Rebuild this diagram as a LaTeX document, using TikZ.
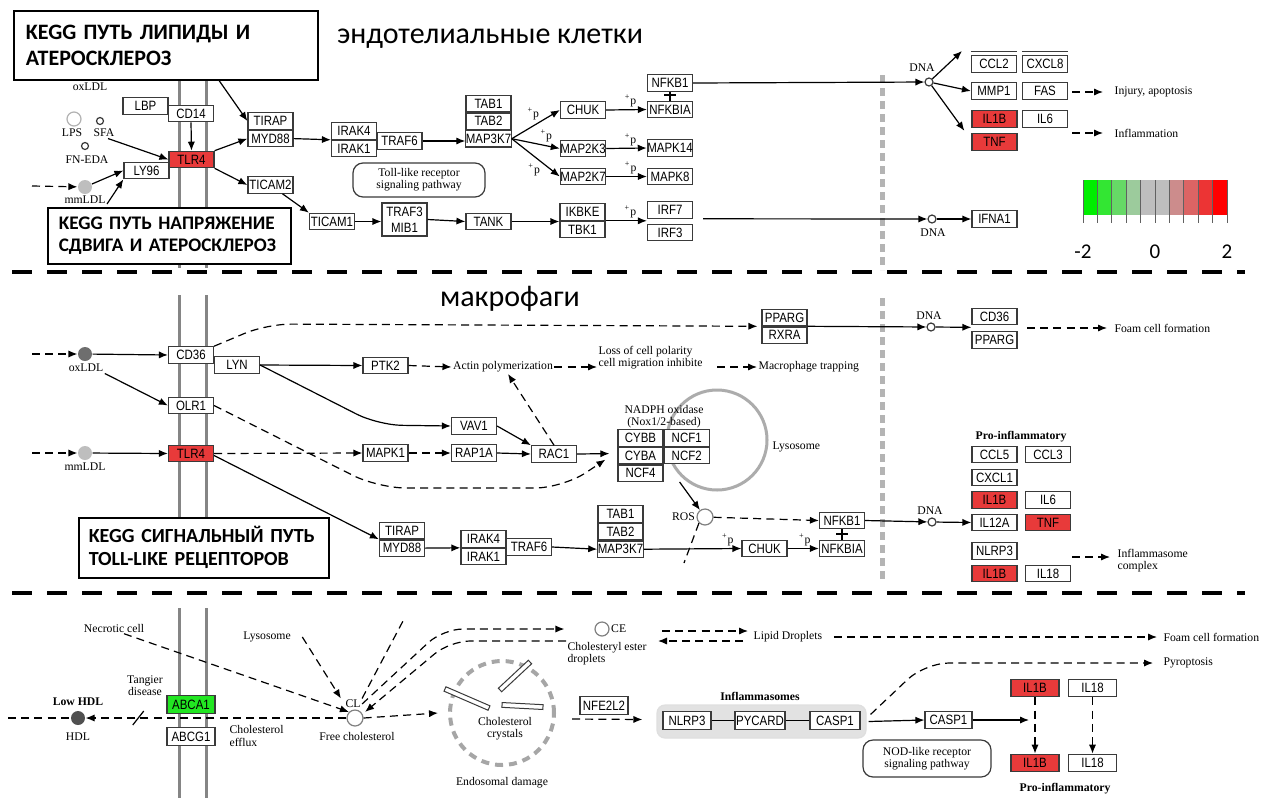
\documentclass[tikz,border=0pt]{standalone}
\usepackage{fontspec}
\setmainfont{Liberation Serif}
\newfontfamily\genefont[FakeStretch=0.85]{Liberation Sans}
\newfontfamily\headfont{Carlito}
\usetikzlibrary{arrows.meta,positioning}

\definecolor{boxline}{HTML}{3A3A3A}
\definecolor{upred}{HTML}{E83A3A}
\definecolor{downgreen}{HTML}{22E622}
\definecolor{membrane}{HTML}{858585}
\definecolor{nucline}{HTML}{B4B4B4}
\definecolor{oxgray}{HTML}{6E6E6E}
\definecolor{mmgray}{HTML}{BEBEBE}
\definecolor{hdlgray}{HTML}{505050}
\definecolor{inflgray}{HTML}{E2E2E2}

\newcommand{\plusp}{\textsuperscript{+}p}

\begin{document}
\begin{tikzpicture}[x=0.5pt,y=-0.5pt,>={Latex[length=4.5pt,width=3.6pt]},line width=0.6pt,
    gene/.style={draw=boxline,fill=white,inner sep=0pt,minimum width=22.5pt,minimum height=8.2pt,
      font=\genefont\fontsize{6.75}{7}\selectfont},
    upgene/.style={gene,fill=upred},
    widegene/.style={gene,minimum width=24pt,minimum height=8.8pt},
    lbl/.style={inner sep=0.5pt,align=center,font=\fontsize{5.85}{6.1}\selectfont},
    blbl/.style={lbl,font=\fontsize{5.85}{6.1}\selectfont\bfseries},
    cpd/.style={circle,draw=boxline,fill=white,inner sep=0pt,minimum size=4pt},
    ldl/.style={circle,inner sep=0pt,minimum size=7pt},
    dsh/.style={dash pattern=on 4pt off 2.6pt},
    pathbox/.style={draw=boxline,rounded corners=5pt,minimum width=66pt,minimum height=17pt,
      align=center,inner sep=0pt,font=\fontsize{5.85}{6.1}\selectfont},
    crystal/.style={draw=boxline,fill=white,line width=0.5pt,inner sep=0pt,minimum height=2.4pt},
    headbox/.style={draw=black,fill=white,line width=0.8pt,anchor=north west,align=left,
      font=\headfont\bfseries}]

  \fill[white] (0,0) rectangle (1278,798);
  \useasboundingbox (0,0) rectangle (1278,798);

  % cell membranes
  \foreach \mx in {179,206} {
    \draw[membrane,line width=1.5pt] (\mx,12) -- (\mx,268);
    \draw[membrane,line width=1.5pt] (\mx,295) -- (\mx,578);
    \draw[membrane,line width=1.5pt] (\mx,608) -- (\mx,798);
  }
  % nuclear border
  \draw[nucline,line width=2.5pt,dash pattern=on 4pt off 2.5pt] (882,75) -- (882,270);
  \draw[nucline,line width=2.5pt,dash pattern=on 4pt off 2.5pt] (882,298) -- (882,580);
  % compartments
  \draw[line width=2pt,dash pattern=on 10pt off 7.5pt] (12,272) -- (1245,272);
  \draw[line width=2pt,dash pattern=on 10pt off 7.5pt] (12,593) -- (1245,593);

  \node[font=\headfont\fontsize{15}{18}\selectfont] (endotitle) at (490,39) {эндотелиальные клетки};
  \node[font=\headfont\fontsize{15}{18}\selectfont] (macrotitle) at (510,299) {макрофаги};

  %% endothelial cells
  \node[lbl] (oxlblA) at (90,87) {oxLDL};
  \node[ldl,draw=gray!60,fill=white] (lps) at (74,119) {};
  \node[cpd,minimum size=3.5pt] (sfa) at (100,121) {};
  \node[cpd,minimum size=3.5pt] (fneda) at (85,146) {};
  \node[lbl] (lpslbl) at (72,133) {LPS};
  \node[lbl] (sfalbl) at (104,133) {SFA};
  \node[lbl] (fnedalbl) at (87,160) {FN-EDA};
  \node[ldl,fill=mmgray] (mmA) at (85,187) {};
  \node[lbl] (mmlblA) at (85,200) {mmLDL};
  \coordinate (mminA) at (32,186);
  \coordinate (shearin) at (107,204);
  \coordinate (lipin) at (218,79);

  \node[gene] (lbp) at (145.5,106) {LBP};
  \node[gene] (cd14) at (191,113.5) {CD14};
  \node[upgene] (tlrA) at (191.5,159.5) {TLR4};
  \node[gene] (ly96) at (146.5,170.5) {LY96};
  \node[gene] (tirapA) at (270.5,121) {TIRAP};
  \node[gene,below=0pt of tirapA] (myd88A) {MYD88};
  \node[gene] (ticam2) at (270.5,185) {TICAM2};
  \node[gene] (irak4A) at (354,131) {IRAK4};
  \node[gene,below=0pt of irak4A] (irak1A) {IRAK1};
  \node[gene] (traf6A) at (399.5,141) {TRAF6};
  \node[gene] (tab1A) at (488.5,103.5) {TAB1};
  \node[gene,below=0pt of tab1A] (tab2A) {TAB2};
  \node[gene,below=0pt of tab2A] (map3k7A) {MAP3K7};
  \node[gene] (chukA) at (583,110) {CHUK};
  \node[gene] (map2k3) at (583,148.5) {MAP2K3};
  \node[gene] (map2k7) at (583,176.5) {MAP2K7};
  \node[gene] (nfkb1A) at (670,83) {NFKB1};
  \node[gene] (nfkbiaA) at (670,109.5) {NFKBIA};
  \node[gene] (mapk14) at (670,148) {MAPK14};
  \node[gene] (mapk8) at (670,176.5) {MAPK8};
  \node[gene] (irf7) at (670,210) {IRF7};
  \node[gene] (irf3) at (670,232.5) {IRF3};
  \node[gene] (ticam1) at (332,221.5) {TICAM1};
  \node[gene,align=center,minimum height=16.5pt] (traf3) at (404.5,219.5) {TRAF3\\[1pt]MIB1};
  \node[gene] (tank) at (488.5,221.5) {TANK};
  \node[gene] (ikbke) at (582.5,212) {IKBKE};
  \node[gene,below=0pt of ikbke] (tbk1) {TBK1};
  \node[pathbox] (tlrpath) at (419,180) {Toll-like receptor\\signaling pathway};

  \node[cpd] (dnaA) at (929,82) {};
  \node[lbl] (dnalblA) at (922,68) {DNA};
  \node[gene] (ccl2) at (994,64) {CCL2};
  \node[gene] (cxcl8) at (1045,64) {CXCL8};
  \node[gene] (mmp1) at (994,91) {MMP1};
  \node[gene] (fas) at (1045,91) {FAS};
  \node[upgene] (il1bA) at (994.5,119) {IL1B};
  \node[gene] (il6A) at (1045,119) {IL6};
  \node[upgene] (tnfA) at (994.5,142) {TNF};
  \node[lbl,anchor=west] (injury) at (1113,92) {Injury, apoptosis};
  \node[lbl,anchor=west] (inflam) at (1113,133) {Inflammation};
  \node[cpd] (dnaB) at (932,219) {};
  \node[lbl] (dnalblB) at (933,233) {DNA};
  \node[gene] (ifna1) at (994.5,219) {IFNA1};
  \coordinate (upcut) at (962,51);
  \draw[boxline] ([yshift=2pt]ccl2.north west) -- ([yshift=2pt]ccl2.north east);
  \draw[boxline] ([yshift=2pt]cxcl8.north west) -- ([yshift=2pt]cxcl8.north east);

  \draw[->,dsh] (mminA) -- (mmA);
  \draw[->] (mmA) -- (ly96.west);
  \draw[->] (shearin) -- (ly96.south west);
  \draw[->] ([xshift=2pt]sfalbl.south) -- (tlrA.west);
  \draw[->] (cd14.south) -- (tlrA.north);
  \draw[->] (lipin) -- (tirapA.west);
  \draw[->] (tlrA.north east) -- (myd88A.west);
  \draw[->] (tlrA.south east) -- (ticam2.west);
  \draw[->] ([xshift=6pt]ticam2.south) -- (ticam1.north west);
  \draw[->] (myd88A.east) -- (irak1A.north west);
  \draw[->] (traf6A.east) -- (traf6A.east -| map3k7A.west);
  \draw[->] (map3k7A.east) -- (chukA.west) node[lbl,pos=0.6,above left=0pt] {\plusp};
  \draw[->] (map3k7A.east) -- (map2k3.west) node[lbl,pos=0.72,above=1pt] {\plusp};
  \draw[->] (map3k7A.east) -- (map2k7.west) node[lbl,pos=0.62,below left=0pt] {\plusp};
  \draw[->] (chukA.east) -- (nfkbiaA.west) node[lbl,pos=0.6,above=0.5pt] {\plusp};
  \draw[->] (map2k3.east) -- (mapk14.west) node[lbl,pos=0.6,above=0.5pt] {\plusp};
  \draw[->] (map2k7.east) -- (mapk8.west) node[lbl,pos=0.6,above=0.5pt] {\plusp};
  \draw (nfkb1A.south) -- (nfkbiaA.north) coordinate[pos=0.35] (bindA);
  \draw ([xshift=-3pt]bindA) -- ([xshift=3pt]bindA);
  \draw[->] (ticam1.east) -- (traf3.west |- ticam1.east);
  \draw[->] (traf3.east) -- (tank.west);
  \draw[->] (tank.east) -- (tank.east -| ikbke.west);
  \draw[->] (ikbke.south east) -- (ikbke.south east -| irf7.west) node[lbl,pos=0.6,above=0.5pt] {\plusp};
  \draw[->] ([xshift=5pt]irf7.south east) -- (dnaB);
  \draw[->] (nfkb1A.east) -- (dnaA);
  \draw[->] (dnaA) -- (upcut);
  \draw[->] (dnaA) -- (mmp1.west);
  \draw[->] (dnaA) -- ([xshift=-3.5pt,yshift=-1.5pt]il1bA.south west);
  \draw[->] (dnaB) -- (ifna1.west);
  \draw[->,dsh] ([xshift=-20.5pt]injury.west) -- ([xshift=-5pt]injury.west);
  \draw[->,dsh] ([xshift=-20.5pt]inflam.west) -- ([xshift=-5pt]inflam.west);

  % expression scale
  \foreach \c [count=\i from 0] in {00EE00,33E633,66D966,9CCB9C,BEBEBE,BEBEBE,CC8C8C,DC6464,EC3434,FF0000} {
    \definecolor{cellcol}{HTML}{\c}
    \fill[cellcol] (1083+14.4*\i,180) rectangle (1097.4+14.4*\i,215);
  }
  \foreach \i in {0,...,10}
    \draw[boxline!80,line width=0.4pt] (1083+14.4*\i,180) -- (1083+14.4*\i,223);
  \node[font=\headfont\fontsize{10.5}{12}\selectfont] (scalelo) at (1083,252) {-2};
  \node[font=\headfont\fontsize{10.5}{12}\selectfont] (scalemid) at (1155,252) {0};
  \node[font=\headfont\fontsize{10.5}{12}\selectfont] (scalehi) at (1227,252) {2};

  %% macrophages
  \node[ldl,fill=oxgray] (oxA) at (85,354) {};
  \node[lbl] (oxlblB) at (86,368) {oxLDL};
  \node[ldl,fill=mmgray] (mmB) at (85,453) {};
  \node[lbl] (mmlblB) at (85,467) {mmLDL};
  \coordinate (oxin) at (32,354);
  \coordinate (mminB) at (32,453);
  \node[gene] (cd36A) at (191,355) {CD36};
  \node[gene] (lyn) at (237,365) {LYN};
  \node[gene] (olr1) at (191,405.5) {OLR1};
  \node[upgene] (tlrB) at (191,453.5) {TLR4};
  \node[gene] (ptk2) at (385.5,365.5) {PTK2};
  \node[gene] (vav1) at (474,426) {VAV1};
  \node[gene] (mapk1) at (385.5,453) {MAPK1};
  \node[gene] (rap1a) at (474,453) {RAP1A};
  \node[gene] (rac1) at (554,454) {RAC1};
  \node[lbl] (actin) at (503,367) {Actin polymerization};
  \node[lbl,anchor=west,align=left] (polarity) at (597,358) {Loss of cell polarity\\cell migration inhibite};
  \node[lbl,anchor=west] (trapping) at (757,367) {Macrophage trapping};
  \node[gene] (ppargA) at (784.5,317.5) {PPARG};
  \node[gene,below=0pt of ppargA] (rxra) {RXRA};

  \node[circle,draw=gray!65,line width=1.5pt,minimum size=50pt] (lyso) at (717,440) {};
  \node[lbl,anchor=west] (lysolbl) at (771,447) {Lysosome};
  \node[lbl] (nadphlbl) at (664,417) {NADPH oxidase\\(Nox1/2-based)};
  \node[gene] (cybb) at (640.5,438) {CYBB};
  \node[gene,below=0pt of cybb] (cyba) {CYBA};
  \node[gene,below=0pt of cyba] (ncf4) {NCF4};
  \node[gene,right=0pt of cybb] (ncf1) {NCF1};
  \node[gene,below=0pt of ncf1] (ncf2) {NCF2};
  \node[cpd,draw=gray,minimum size=8pt] (ros) at (705,517) {};
  \node[lbl,anchor=east] (roslbl) at (ros.west) {ROS};
  \coordinate (rostail) at (684,563);

  \node[gene] (tirapB) at (402,530.5) {TIRAP};
  \node[gene,below=0pt of tirapB] (myd88B) {MYD88};
  \node[gene] (irak4B) at (483.5,539) {IRAK4};
  \node[gene,below=0pt of irak4B] (irak1B) {IRAK1};
  \node[gene] (traf6B) at (529,547) {TRAF6};
  \node[gene] (tab1B) at (620.5,514) {TAB1};
  \node[gene,below=0pt of tab1B] (tab2B) {TAB2};
  \node[gene,below=0pt of tab2B] (map3k7B) {MAP3K7};
  \node[gene] (chukB) at (764.5,548.5) {CHUK};
  \node[gene] (nfkb1B) at (842,520.5) {NFKB1};
  \node[gene] (nfkbiaB) at (842,548.5) {NFKBIA};

  \node[cpd] (dnaC) at (931,327) {};
  \node[lbl] (dnalblC) at (929,316) {DNA};
  \node[gene] (cd36B) at (994.5,316.5) {CD36};
  \node[gene] (ppargB) at (994.5,340) {PPARG};
  \node[lbl,anchor=west] (foamA) at (1113,328) {Foam cell formation};
  \node[blbl] (proA) at (1021,437) {Pro-inflammatory};
  \node[gene] (ccl5) at (994.5,454.5) {CCL5};
  \node[gene] (ccl3) at (1048,454.5) {CCL3};
  \node[gene] (cxcl1) at (994.5,477.5) {CXCL1};
  \node[upgene] (il1bB) at (994.5,500) {IL1B};
  \node[gene] (il6B) at (1048,500) {IL6};
  \node[gene] (il12a) at (994.5,522.5) {IL12A};
  \node[upgene] (tnfB) at (1048,522.5) {TNF};
  \node[gene] (nlrp3A) at (994.5,551) {NLRP3};
  \node[upgene] (il1bC) at (994.5,573.5) {IL1B};
  \node[gene] (il18A) at (1048,573.5) {IL18};
  \node[cpd] (dnaD) at (932,522) {};
  \node[lbl] (dnalblD) at (930,511) {DNA};
  \node[lbl,anchor=west,align=left] (complex) at (1116,561) {Inflammasome\\complex};

  \draw[->,dsh] (oxin) -- (oxA);
  \draw[->,dsh] (mminB) -- (mmB);
  \draw[->] (oxA) -- (cd36A.west);
  \draw[->] (oxlblB.south east) -- (olr1.west);
  \draw[->] (mmB) -- (tlrB.west);
  \draw[->,dsh,rounded corners=12pt] (cd36A.north east) -- (267,324) -- ([xshift=-2pt]ppargA.south west);
  \draw[->] (lyn.east) -- (ptk2.west);
  \draw[->,rounded corners=12pt] (lyn.east) -- (378,425) -- (vav1.west);
  \draw[->,dsh,rounded corners=14pt] (olr1.east) -- (378,488) -- (563,488) -- ([xshift=-6pt,yshift=-2pt]cyba.west);
  \draw[->,dsh] (tlrB.east) -- (mapk1.west);
  \draw[->] ([yshift=-1pt]tlrB.east) -- (tirapB.south west);
  \draw[->,dsh] (mapk1.east) -- (rap1a.west);
  \draw[->] (rap1a.east) -- (rac1.west);
  \draw[->] (vav1.east) -- (rac1.north west);
  \draw[->,dsh] (rac1.north) -- ([xshift=2.5pt]actin.south);
  \draw[->] (rac1.east) -- ([xshift=-4pt,yshift=1pt]cyba.west);
  \draw[->,dsh] (ptk2.east) -- (actin.west);
  \draw[->,dsh] (actin.east) -- (polarity.west |- actin.east);
  \draw[->,dsh] ([xshift=-20pt]trapping.west) -- (trapping.west);
  \draw[->] (rxra.north east) -- (dnaC);
  \draw[->] (dnaC) -- ([yshift=-1pt]cd36B.south west);
  \draw[->,dsh] ([xshift=-43pt]foamA.west) -- ([xshift=-3pt]foamA.west);
  \draw[->] ([xshift=8pt]ncf4.south east) -- (ros);
  \draw[->,dsh] (ros) -- (nfkb1B.west);
  \draw[dsh] (ros.south west) -- (rostail);
  \draw[->] (myd88B.east) -- (irak1B.north west);
  \draw[->] (traf6B.east) -- (map3k7B.west);
  \draw[->] (map3k7B.east) -- (chukB.west) node[lbl,pos=0.86,above=0.5pt] {\plusp};
  \draw[->] (chukB.east) -- (nfkbiaB.west) node[lbl,pos=0.55,above=0.5pt] {\plusp};
  \draw (nfkb1B.south) -- (nfkbiaB.north) coordinate[pos=0.45] (bindB);
  \draw ([xshift=-3pt]bindB) -- ([xshift=3pt]bindB);
  \draw[->] (nfkb1B.east) -- (dnaD);
  \draw[->] (dnaD) -- (il12a.west);
  \draw[->,dsh] ([xshift=-22pt,yshift=2pt]complex.west) -- ([xshift=-3pt,yshift=2pt]complex.west);

  %% foam cells
  \node[ldl,fill=hdlgray] (hdl) at (78,718) {};
  \node[blbl] (lowhdl) at (78,702) {Low HDL};
  \node[lbl] (hdllbl) at (78,737) {HDL};
  \node[lbl] (tangier) at (145,686) {Tangier\\disease};
  \node[widegene,fill=downgreen] (abca1) at (191,704.5) {ABCA1};
  \node[widegene] (abcg1) at (191,736.5) {ABCG1};
  \node[lbl,anchor=west,align=left] (efflux) at (228,736) {Cholesterol\\efflux};
  \node[lbl] (necrotic) at (114,628) {Necrotic cell};
  \node[lbl] (lysoB) at (267,637) {Lysosome};
  \node[cpd,draw=gray,minimum size=8pt] (cl) at (355,718) {};
  \node[lbl] (cllbl) at (353,704) {CL};
  \node[lbl] (freechol) at (357,736) {Free cholesterol};
  \node[cpd,draw=gray,minimum size=7pt] (ce) at (602,629) {};
  \node[lbl,anchor=west] (celbl) at (ce.east) {CE};
  \node[lbl,anchor=north west,align=left] (cedrop) at (566,641) {Cholesteryl ester\\droplets};
  \node[lbl,anchor=west] (lipid) at (752,637) {Lipid Droplets};
  \node[lbl,anchor=west] (foamB) at (1162,637) {Foam cell formation};
  \coordinate (hdlin) at (8,718);
  \coordinate (steepend) at (403,621);

  \node[circle,draw=gray!70,line width=2pt,dash pattern=on 4pt off 3pt,minimum size=52pt] (endo) at (502,713) {};
  \node[crystal,minimum width=24pt,rotate=-23.4] (rodA) at (467,698.5) {};
  \node[crystal,minimum width=20.5pt,rotate=43] (rodB) at (515,676) {};
  \node[crystal,minimum width=20.5pt,rotate=-3] (rodC) at (522.5,706) {};
  \node[lbl] (crystlbl) at (505,729) {Cholesterol\\crystals};
  \node[lbl] (endolbl) at (502,783) {Endosomal damage};
  \node[widegene] (nfe2l2) at (604,705.5) {NFE2L2};

  \node[draw=gray!25,fill=inflgray,rounded corners=4pt,inner sep=0pt,minimum width=104.5pt,minimum height=16.5pt] (inflbox) at (761.5,721.5) {};
  \node[blbl] (inflbl) at (760,696) {Inflammasomes};
  \node[widegene] (nlrp3B) at (687,720.5) {NLRP3};
  \node[widegene,minimum width=25pt] (pycard) at (760,720.5) {PYCARD};
  \node[widegene,minimum width=25pt] (casp1A) at (835,720.5) {CASP1};
  \node[widegene,minimum width=23.5pt] (casp1B) at (948.5,720) {CASP1};
  \node[lbl,anchor=west] (pyro) at (1162,663) {Pyroptosis};
  \node[widegene,fill=upred] (il1bD) at (1035,688) {IL1B};
  \node[widegene] (il18B) at (1092.5,688) {IL18};
  \node[widegene,fill=upred] (il1bE) at (1035,763) {IL1B};
  \node[widegene] (il18C) at (1092.5,763) {IL18};
  \node[blbl] (proB) at (1065,789) {Pro-inflammatory};
  \node[pathbox,minimum width=64pt,minimum height=18.5pt] (nodpath) at (927,758.5) {NOD-like receptor\\signaling pathway};
  \coordinate (il1bin) at (1029,720);

  \draw[dsh] (hdlin) -- (hdl);
  \draw[->,dsh] (cl) -- (hdl) coordinate[pos=0.8] (tangcut);
  \draw ([shift={(-5,7)}]tangcut) -- ([shift={(6,-7)}]tangcut);
  \draw[->,dsh] ([xshift=5pt]necrotic.south) -- (cl.north west);
  \draw[->,dsh] ([xshift=5pt]lysoB.east) -- ([xshift=-1.5pt]cllbl.north west);
  \draw[->,dsh,rounded corners=10pt] (cllbl.east) -- (443,629) -- ([xshift=-15pt]ce.west);
  \draw[->,dsh,rounded corners=10pt] (cedrop.north west) -- (450,641) -- ([xshift=2pt]cl.north east);
  \draw[dsh] (cllbl.north east) -- (steepend);
  \draw[->,dsh] (cl.east) -- ([xshift=-5pt]endo.west);
  \draw[->,dsh] ([xshift=8pt,yshift=-3pt]endo.east) -- ([xshift=-7pt,yshift=1pt]inflbox.west);
  \draw[->,dsh] ([xshift=-45pt,yshift=3pt]lipid.west) -- ([xshift=-2pt,yshift=3pt]lipid.west);
  \draw[->,dsh] ([xshift=-4.5pt,yshift=-2pt]lipid.west) -- ([xshift=-47pt,yshift=-2pt]lipid.west);
  \draw[->,dsh] ([xshift=5pt]lipid.east) -- ([xshift=-2.5pt]foamB.west);
  \draw (nlrp3B.east) -- (pycard.west);
  \draw (pycard.east) -- (casp1A.west);
  \draw[->] ([xshift=1pt]inflbox.east) -- (casp1B.west);
  \draw[->] (casp1B.east) -- (il1bin);
  \draw[->,dsh,rounded corners=12pt] ([xshift=2pt,yshift=-5pt]inflbox.north east) -- (925,663) -- ([xshift=-4.5pt]pyro.west);
  \draw[->,dsh] (il1bD) -- (il1bE);
  \draw[->,dsh] (il18B) -- (il18C);

  %% pathway tags
  \node[headbox,minimum width=152pt,minimum height=34.5pt,inner xsep=6pt,text width=140pt,
    font=\headfont\bfseries\fontsize{11}{13}\selectfont] (lipidtag) at (13,10) {KEGG ПУТЬ ЛИПИДЫ И\\АТЕРОСКЛЕРОЗ};
  \node[headbox,minimum width=121.5pt,minimum height=28pt,inner xsep=5.5pt,text width=110.5pt,
    font=\headfont\bfseries\fontsize{9.6}{11}\selectfont] (sheartag) at (47,207) {KEGG ПУТЬ НАПРЯЖЕНИЕ\\СДВИГА И АТЕРОСКЛЕРОЗ};
  \node[headbox,minimum width=125pt,minimum height=30pt,inner xsep=5pt,text width=115pt,
    font=\headfont\bfseries\fontsize{10}{11.5}\selectfont] (tolltag) at (78,517) {KEGG СИГНАЛЬНЫЙ ПУТЬ\\TOLL-LIKE РЕЦЕПТОРОВ};
\end{tikzpicture}
\end{document}
